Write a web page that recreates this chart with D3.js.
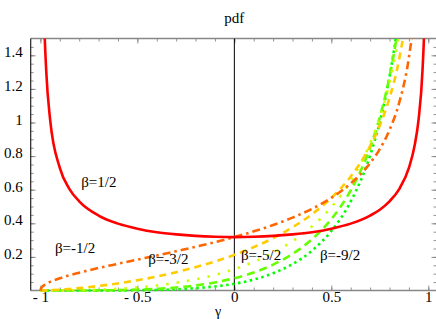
<!DOCTYPE html>
<html>
<head>
<meta charset="utf-8">
<script src="https://cdn.jsdelivr.net/npm/d3@7"></script>
<style>
  body { margin: 0; background: #fff; }
  text { font-family: "Liberation Serif", "DejaVu Serif", serif; }
</style>
</head>
<body>
<div id="chart"></div>
<script>
// Data - - - - - - - - - - - - - - - - - - - - - - - - - - - - - -
var gamma = [-1, -0.995, -0.99, -0.98, -0.97, -0.95, -0.9, -0.85, -0.8, -0.7, -0.6, -0.5,
             -0.4, -0.3, -0.2, -0.1, 0, 0.1, 0.2, 0.3, 0.4, 0.5, 0.6, 0.7, 0.75, 0.8,
             0.85, 0.9, 0.93, 0.95, 0.97, 0.98, 0.99]

var pdfHalf  = [null, 3.19, 2.256, 1.600, 1.309, 1.019, 0.730, 0.604, 0.531, 0.446, 0.398, 0.368,
                0.347, 0.334, 0.325, 0.320, 0.318, 0.320, 0.325, 0.334, 0.347, 0.368, 0.398, 0.446,
                0.481, 0.531, 0.604, 0.730, 0.866, 1.019, 1.309, 1.600, 2.256]
var pdfM1    = [0, 0.016, 0.023, 0.032, 0.039, 0.051, 0.073, 0.091, 0.106, 0.134, 0.159, 0.184,
                0.208, 0.234, 0.260, 0.288, 0.318, 0.352, 0.390, 0.434, 0.486, 0.551, 0.637, 0.758,
                0.842, 0.955, 1.118, 1.388, 1.671, 1.988, 2.579, 3.167, 4.490]
var pdfM3    = [0, 0, 0, 0, 0.001, 0.002, 0.005, 0.009, 0.014, 0.027, 0.042, 0.061,
                0.083, 0.109, 0.139, 0.173, 0.212, 0.258, 0.312, 0.376, 0.454, 0.551, 0.679, 0.859,
                0.983, 1.146, 1.379, 1.758, 2.151, 2.584, 3.387, 4.181, 5.957]
var pdfM5    = [0, 0, 0, 0, 0, 0, 0.0003, 0.001, 0.002, 0.005, 0.010, 0.018,
                0.030, 0.046, 0.067, 0.093, 0.127, 0.170, 0.225, 0.293, 0.381, 0.496, 0.652, 0.876,
                1.032, 1.238, 1.531, 2.004, 2.490, 3.024, 4.003, 4.967, 7.113]
var pdfM7    = [0, 0, 0, 0, 0, 0, 0, 0, 0, 0.001, 0.002, 0.005,
                0.010, 0.018, 0.030, 0.048, 0.073, 0.107, 0.154, 0.218, 0.305, 0.425, 0.596, 0.851,
                1.032, 1.273, 1.618, 2.175, 2.747, 3.369, 4.506, 5.620, 8.088]
var pdfM9    = [0, 0, 0, 0, 0, 0, 0, 0, 0, 0, 0, 0.002,
                0.003, 0.007, 0.014, 0.024, 0.040, 0.065, 0.103, 0.157, 0.237, 0.354, 0.530, 0.804,
                1.003, 1.273, 1.663, 2.296, 2.945, 3.650, 4.930, 6.180, 8.940]

var betaNames = ["1/2", "-1/2", "-3/2", "-5/2", "-7/2", "-9/2"]
var seriesValues = [pdfHalf, pdfM1, pdfM3, pdfM5, pdfM7, pdfM9]

// curve labels: text, gamma, pdf
var labelText  = ["β=1/2", "β=-1/2", "β=-3/2", "β=-5/2", "β=-9/2"]
var labelGamma = [-0.79, -0.925, -0.444, 0.034, 0.441]
var labelPdf   = [0.618, 0.221, 0.158, 0.182, 0.182]

var xTicks = [-1, -0.5, 0, 0.5, 1]
var yTicks = [0.2, 0.4, 0.6, 0.8, 1, 1.2, 1.4]

// Canvas - - - - - - - - - - - - - - - - - - - - - - - - - - - - - - - - - - - - - - -
var svgWidth = 436
  , svgHeight = 319
  , plotLeft = 30.7
  , plotRight = 438
  , plotTop = 38.5
  , plotBottom = 290.5

var colors = ["#ff0000", "#ff6600", "#ffcc00", "#ccff00", "#66ff00", "#00ff00"]
var dashes = [null, "8,4,2.5,4", "7,5", "2.5,8", "8,5", "2.5,3.5"]

var svg = d3.select("#chart").append("svg")
    .attr("width", svgWidth)
    .attr("height", svgHeight)

var x = d3.scaleLinear().domain([-1.05, 1.05]).range([plotLeft, plotRight])
var y = d3.scaleLinear().domain([0, 1.5]).range([plotBottom, plotTop])

svg.append("defs").append("clipPath").attr("id", "plotClip")
  .append("rect")
    .attr("x", plotLeft).attr("y", plotTop)
    .attr("width", plotRight - plotLeft).attr("height", plotBottom - plotTop + 10)

// minor ticks every 0.1 on x, every 0.05 on y
var xMinor = d3.range(-10, 11).map(d => d / 10)
var yMinor = d3.range(1, 30).map(d => d / 20)

var frame = svg.append("g").attr("class", "frame")

frame.append("g")
    .attr("transform", "translate(0," + plotBottom + ")")
    .call(d3.axisBottom(x).tickValues(xMinor).tickSize(-3).tickFormat(""))
frame.append("g")
    .attr("transform", "translate(0," + plotTop + ")")
    .call(d3.axisTop(x).tickValues(xMinor).tickSize(-3).tickFormat(""))
frame.append("g")
    .attr("transform", "translate(" + plotLeft + ",0)")
    .call(d3.axisLeft(y).tickValues(yMinor).tickSize(-3).tickFormat(""))
frame.append("g")
    .attr("transform", "translate(" + (plotRight - 1.5) + ",0)")
    .call(d3.axisRight(y).tickValues(yMinor).tickSize(-3).tickFormat(""))

var xAxis = frame.append("g")
    .attr("transform", "translate(0," + plotBottom + ")")
    .call(d3.axisBottom(x).tickValues(xTicks).tickSize(-5).tickPadding(1)
          .tickFormat(d => d < 0 ? "- " + Math.abs(d) : String(d)))
var topAxis = frame.append("g")
    .attr("transform", "translate(0," + plotTop + ")")
    .call(d3.axisTop(x).tickValues(xTicks).tickSize(-5).tickFormat(""))
var yAxis = frame.append("g")
    .attr("transform", "translate(" + plotLeft + ",0)")
    .call(d3.axisLeft(y).tickValues(yTicks).tickSize(-5).tickPadding(8)
          .tickFormat(d => String(d)))
var rightAxis = frame.append("g")
    .attr("transform", "translate(" + (plotRight - 1.5) + ",0)")
    .call(d3.axisRight(y).tickValues(yTicks).tickSize(-5).tickFormat(""))

frame.selectAll(".domain").remove()
frame.selectAll(".tick line").attr("stroke", "#777").attr("stroke-width", 0.8)
frame.selectAll(".tick text").attr("fill", "#000").style("font-size", "15px")
  .style("font-family", '"Liberation Serif", serif')
yAxis.selectAll(".tick text").attr("dy", "0.1em")

// frame lines
frame.append("line").attr("x1", plotLeft).attr("x2", plotRight)
    .attr("y1", plotTop).attr("y2", plotTop).attr("stroke", "#888").attr("stroke-width", 1.5)
frame.append("line").attr("x1", plotLeft).attr("x2", plotRight)
    .attr("y1", plotBottom).attr("y2", plotBottom).attr("stroke", "#888").attr("stroke-width", 1.5)
frame.append("line").attr("x1", plotLeft).attr("x2", plotLeft)
    .attr("y1", plotTop).attr("y2", plotBottom).attr("stroke", "#222").attr("stroke-width", 1.2)
// y axis through gamma = 0
frame.append("line").attr("x1", x(0)).attr("x2", x(0))
    .attr("y1", plotTop).attr("y2", plotBottom).attr("stroke", "#000").attr("stroke-width", 1)

// Curves - - - - - - - - - - - - - - - - - - - - - - - - - - - - - - - - - - - - - - -
var line = d3.line()
    .defined(d => d[1] !== null)
    .x(d => x(d[0]))
    .y(d => y(d[1]))
    .curve(d3.curveMonotoneX)

var curves = svg.append("g").attr("clip-path", "url(#plotClip)")

// draw last series first so the red curve sits on top
for (var i = seriesValues.length - 1; i >= 0; i--) {
    var pts = gamma.map((g, j) => [g, seriesValues[i][j]])
    curves.append("path")
        .datum(pts)
        .attr("class", "beta " + betaNames[i])
        .attr("fill", "none")
        .attr("stroke", colors[i])
        .attr("stroke-width", 2.6)
        .attr("stroke-dasharray", dashes[i])
        .attr("d", line)
}

// Labels - - - - - - - - - - - - - - - - - - - - - - - - - - - - - - - - - - - - - - -
svg.selectAll(".curveLabel")
    .data(labelText).enter()
    .append("text")
    .attr("class", "curveLabel")
    .attr("x", (d, i) => x(labelGamma[i]))
    .attr("y", (d, i) => y(labelPdf[i]))
    .style("font-size", "15px")
    .text(d => d)

svg.append("text")
    .attr("x", x(0))
    .attr("y", 23)
    .attr("text-anchor", "middle")
    .style("font-size", "15px")
    .text("pdf")

svg.append("text")
    .attr("x", 218)
    .attr("y", 316)
    .attr("text-anchor", "middle")
    .style("font-size", "14px")
    .text("γ")
</script>
</body>
</html>
